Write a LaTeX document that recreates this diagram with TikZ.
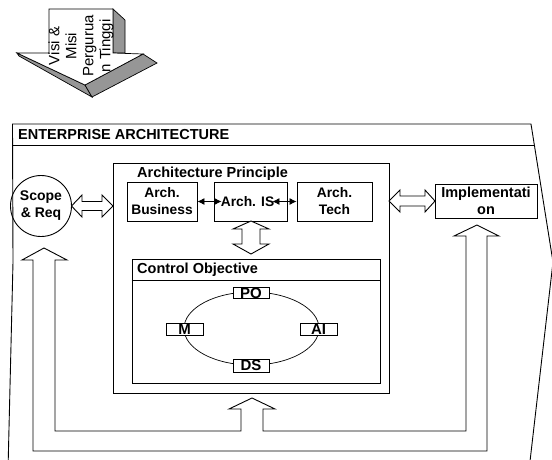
\documentclass[tikz,border=0pt]{standalone}
\usepackage{fontspec}
\setmainfont{Liberation Sans}
\usetikzlibrary{arrows.meta,shapes.geometric}
\definecolor{facegrey}{RGB}{150,150,150}
\tikzset{
  ln/.style={line width=0.9pt, draw=black},
  lbl/.style={font=\fontsize{14.5}{17}\selectfont\bfseries, align=center, inner sep=0pt},
  boxnode/.style={ln, fill=white, lbl, rectangle, font=\fontsize{13.8}{17}\selectfont\bfseries},
  smallbox/.style={ln, fill=white, font=\fontsize{15}{16}\selectfont\bfseries, inner sep=0pt, rectangle},
  hollow/.style={ln, fill=white, line join=miter},
  thinarr/.style={line width=0.8pt, {Latex[length=7pt,width=7pt]}-{Latex[length=7pt,width=7pt]}}
}
\begin{document}
\begin{tikzpicture}[x=1pt,y=-1pt]
\useasboundingbox (0,0) rectangle (552,459);
\begin{scope}
\clip (0,0) rectangle (552,459);
% ---------- 3D arrow at top ----------
\fill[facegrey, draw=black, line width=0.7pt] (17,53) -- (19,56) -- (92,97) -- (85,85) -- cycle;
\fill[facegrey, draw=black, line width=0.7pt] (143,54) -- (157,63) -- (92,97) -- (85,85) -- cycle;
\fill[facegrey, draw=black, line width=0.7pt] (113,9) -- (125,20) -- (125,53) -- (113,53) -- cycle;
\filldraw[fill=white, draw=black, line width=0.7pt, line join=miter]
  (49,9) -- (113,9) -- (113,53) -- (143,54) -- (85,85) -- (17,53) -- (49,53) -- cycle;
\node[rotate=90, align=center, inner sep=0pt, font=\fontsize{15}{17}\selectfont] (visi) at (81,46) {Visi \&\\Misi\\Pergurua\\n Tinggi};

% ---------- Enterprise architecture frame ----------
\draw[ln] (8,470) -- (13,262) -- (12.5,124) -- (531,124) -- (553,262) -- (529,470);
\draw[ln] (12.6,145) -- (534.3,145);
\node[lbl, anchor=base west] (eatitle) at (18,139) {ENTERPRISE ARCHITECTURE};

% ---------- Feedback loops with hollow up arrows ----------
\draw[ln, line join=miter]
  (487,451) -- (33,451) -- (33,260) -- (22,260) -- (44,248) -- (67,260) -- (55,260)
  -- (55,431) -- (241,431) -- (241,409) -- (229,409) -- (252,398) -- (275,409) -- (263,409)
  -- (263,431) -- (466,431) -- (466,236) -- (454,236) -- (477,225) -- (499,236) -- (487,236) -- cycle;

% ---------- Architecture principle ----------
\node[ln, rectangle, minimum width=276pt, minimum height=230pt, inner sep=0pt] (ap) at (251,278) {};
\node[lbl, anchor=base west] (aptitle) at (137,177) {Architecture Principle};
\node[boxnode, minimum width=70pt, minimum height=39pt] (bus) at (162,201.5) {Arch.\\Business};
\node[boxnode, minimum width=73pt, minimum height=39pt] (is) at (250.5,201.5) {Arch. IS\hspace*{6pt}};
\node[boxnode, minimum width=75pt, minimum height=39pt] (tech) at (334.5,201.5) {Arch.\\Tech};
\draw[thinarr] (bus.east) -- ([xshift=8pt]is.west);
\draw[thinarr] ([xshift=-15pt]is.east) -- (tech.west);

% ---------- Control objective ----------
\node[ln, rectangle, minimum width=248pt, minimum height=124pt, inner sep=0pt] (co) at (256,321) {};
\draw[ln] (co.west |- 0,280) -- (co.east |- 0,280);
\node[lbl, anchor=base west] (cotitle) at (137,273) {Control Objective};
\draw[line width=0.7pt] (251.5,328.5) ellipse [x radius=67.5pt, y radius=36.5pt];
\node[smallbox, minimum width=36pt, minimum height=10pt] (po) at (251,293) {PO};
\node[smallbox, minimum width=37pt, minimum height=12pt] (m) at (184.5,329) {M};
\node[smallbox, minimum width=37pt, minimum height=12pt] (ai) at (318.5,329) {AI};
\node[smallbox, minimum width=36pt, minimum height=13pt] (ds) at (251,365.5) {DS};

% ---------- Scope & Implementation ----------
\node[ln, circle, minimum size=61pt, lbl, font=\fontsize{14}{17}\selectfont\bfseries] (scope) at (41,206) {Scope\\\& Req};
\node[ln, rectangle, minimum width=102pt, minimum height=34pt, lbl] (impl) at (486,201) {Implementati\\on};

% ---------- Hollow double arrows ----------
% scope <-> AP
\draw[hollow] (71.5,206) -- (82,195) -- (82,201.5) -- (102,201.5) -- (102,195) -- (113,206)
  -- (102,217) -- (102,210.5) -- (82,210.5) -- (82,217) -- cycle;
% AP <-> Implementation
\draw[hollow] (389,201) -- (400,190) -- (400,196) -- (425,196) -- (425,190) -- (435,201)
  -- (425,212) -- (425,206) -- (400,206) -- (400,212) -- cycle;
% IS <-> Control Objective
\draw[hollow] (251,221) -- (269,229) -- (260,229) -- (260,244) -- (269,244) -- (251,254)
  -- (233,244) -- (242,244) -- (242,229) -- (233,229) -- cycle;
\end{scope}
\end{tikzpicture}
\end{document}
